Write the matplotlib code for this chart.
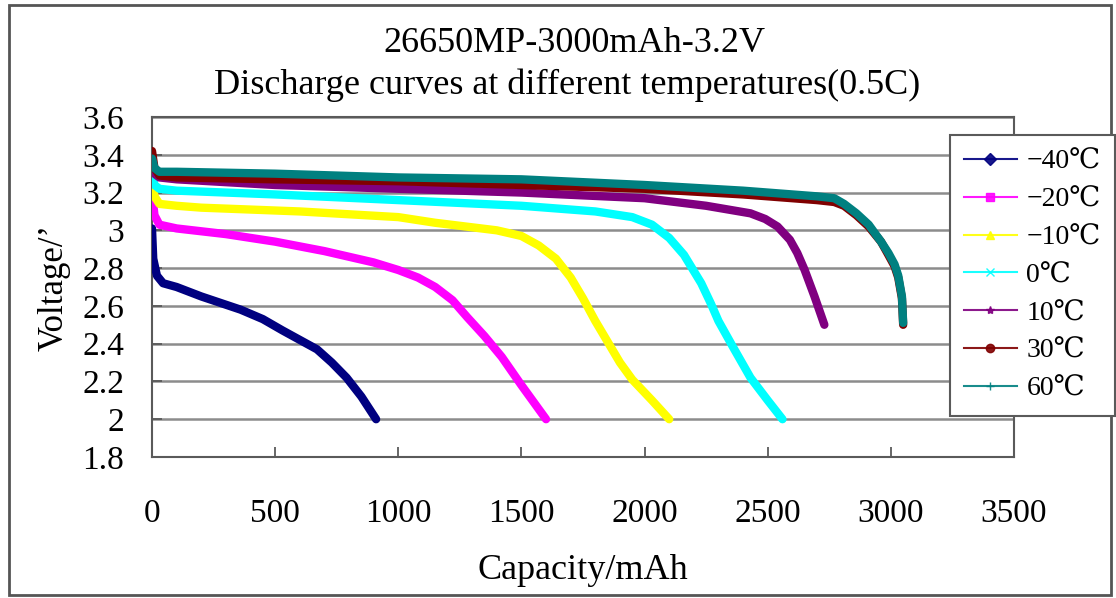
import matplotlib
matplotlib.use('Agg')
import matplotlib.pyplot as plt
from matplotlib.patches import Rectangle

plt.rcParams['font.family'] = ['Liberation Serif', 'DejaVu Serif']

# capacity (mAh) / voltage (V)
cap_m40 = [0, 5, 20, 45, 100, 200, 360, 450, 530, 600, 670, 730, 790, 850, 910]
v_m40 = [3.01, 2.85, 2.76, 2.72, 2.70, 2.65, 2.58, 2.53, 2.47, 2.42, 2.37, 2.30, 2.22, 2.12, 2.0]

cap_m20 = [0, 10, 30, 100, 300, 500, 700, 900, 1000, 1080, 1150, 1220, 1280, 1350, 1420, 1500, 1600]
v_m20 = [3.2, 3.08, 3.03, 3.01, 2.98, 2.94, 2.89, 2.83, 2.79, 2.75, 2.70, 2.63, 2.54, 2.44, 2.33, 2.18, 2.0]

cap_m10 = [0, 10, 30, 100, 200, 600, 1000, 1150, 1400, 1500, 1570, 1640, 1700, 1750, 1800, 1850, 1900, 1950, 2030, 2100]
v_m10 = [3.28, 3.18, 3.14, 3.13, 3.12, 3.10, 3.07, 3.04, 3.0, 2.97, 2.92, 2.85, 2.75, 2.64, 2.52, 2.41, 2.30, 2.21, 2.10, 2.0]

cap_0 = [0, 10, 30, 100, 500, 1000, 1500, 1800, 1950, 2030, 2100, 2160, 2230, 2270, 2300, 2360, 2430, 2500, 2560]
v_0 = [3.30, 3.24, 3.22, 3.21, 3.19, 3.16, 3.13, 3.10, 3.07, 3.03, 2.96, 2.87, 2.72, 2.61, 2.52, 2.38, 2.22, 2.10, 2.0]

cap_10 = [0, 10, 30, 100, 500, 1000, 1500, 2000, 2250, 2430, 2490, 2540, 2590, 2620, 2650, 2690, 2730]
v_10 = [3.36, 3.30, 3.28, 3.27, 3.24, 3.22, 3.20, 3.17, 3.13, 3.09, 3.06, 3.02, 2.95, 2.88, 2.79, 2.65, 2.50]

cap_30 = [0, 10, 30, 100, 500, 1000, 1500, 2000, 2400, 2700, 2770, 2810, 2860, 2910, 2960, 2990, 3015, 3030, 3045, 3050]
v_30 = [3.42, 3.33, 3.29, 3.28, 3.27, 3.26, 3.24, 3.22, 3.19, 3.16, 3.15, 3.13, 3.08, 3.02, 2.94, 2.87, 2.81, 2.75, 2.64, 2.50]

cap_60 = [0, 10, 30, 100, 500, 1000, 1500, 2000, 2400, 2700, 2770, 2810, 2860, 2910, 2960, 2990, 3015, 3030, 3045, 3050]
v_60 = [3.38, 3.33, 3.31, 3.31, 3.30, 3.28, 3.27, 3.24, 3.21, 3.18, 3.17, 3.14, 3.09, 3.03, 2.94, 2.88, 2.82, 2.76, 2.65, 2.51]

labels = ['\u221240\u2103', '\u221220\u2103', '\u221210\u2103', '0\u2103', '10\u2103', '30\u2103', '60\u2103']
colours = ['#000080', '#ff00ff', '#ffff00', '#00ffff', '#800080', '#800000', '#008080']
markers = ['D', 's', '^', 'x', '*', 'o', '+']

series = [(cap_m40, v_m40), (cap_m20, v_m20), (cap_m10, v_m10), (cap_0, v_0),
          (cap_10, v_10), (cap_30, v_30), (cap_60, v_60)]

fig = plt.figure(figsize=(11.16, 5.98), dpi=100)
ax = fig.add_axes([152/1116, 1-457/598, 862/1116, 340/598])

ax.set_xlim(0, 3500)
ax.set_ylim(1.8, 3.6)
ax.set_xticks(range(0, 3501, 500))
ax.set_yticks([1.8, 2.0, 2.2, 2.4, 2.6, 2.8, 3.0, 3.2, 3.4, 3.6])
ax.set_yticklabels(['1.8', '2', '2.2', '2.4', '2.6', '2.8', '3', '3.2', '3.4', '3.6'])
ax.yaxis.grid(True, color='#8c8c8c', linewidth=1.8)
ax.set_axisbelow(True)
for s in ax.spines.values():
    s.set_color('#5a5a5a')
    s.set_linewidth(1.5)
ax.tick_params(direction='in', length=7, width=1.3, color='#5a5a5a', labelsize=24)
ax.tick_params(axis='x', pad=30)
ax.tick_params(axis='y', pad=20)

handles = []
for (c, v), lab, col, m in zip(series, labels, colours, markers):
    ax.plot(c, v, color=col, linewidth=6, solid_capstyle='round', solid_joinstyle='round', zorder=3)
    h, = ax.plot([], [], color=col, linewidth=1.5, marker=m, markersize=6, label=lab, alpha=0.9)
    handles.append(h)

ax.set_xlabel('Capacity/mAh', fontsize=26, labelpad=18)
ax.set_ylabel('Voltage/\u2019', fontsize=25, labelpad=8)
fig.text(0.515, 1-43/598, '26650MP-3000mAh-3.2V', ha='center', va='center', fontsize=26)
fig.text(0.508, 1-85/598, 'Discharge curves at different temperatures(0.5C)', ha='center', va='center', fontsize=26)

leg = fig.legend(handles=handles, loc='upper left', bbox_to_anchor=(950/1116, 1-135/598),
                 bbox_transform=fig.transFigure, fontsize=20, frameon=True, fancybox=False,
                 edgecolor='#5a5a5a', framealpha=1, handlelength=1.9, labelspacing=0.45,
                 borderpad=0.5, handletextpad=0.35, borderaxespad=0)
leg.get_frame().set_linewidth(1.5)

fig.patches.append(Rectangle((9/1116, 3/598), 1102/1116, 590/598, transform=fig.transFigure,
                             fill=False, edgecolor='#555555', linewidth=2))

fig.savefig('out.png', dpi=100)
